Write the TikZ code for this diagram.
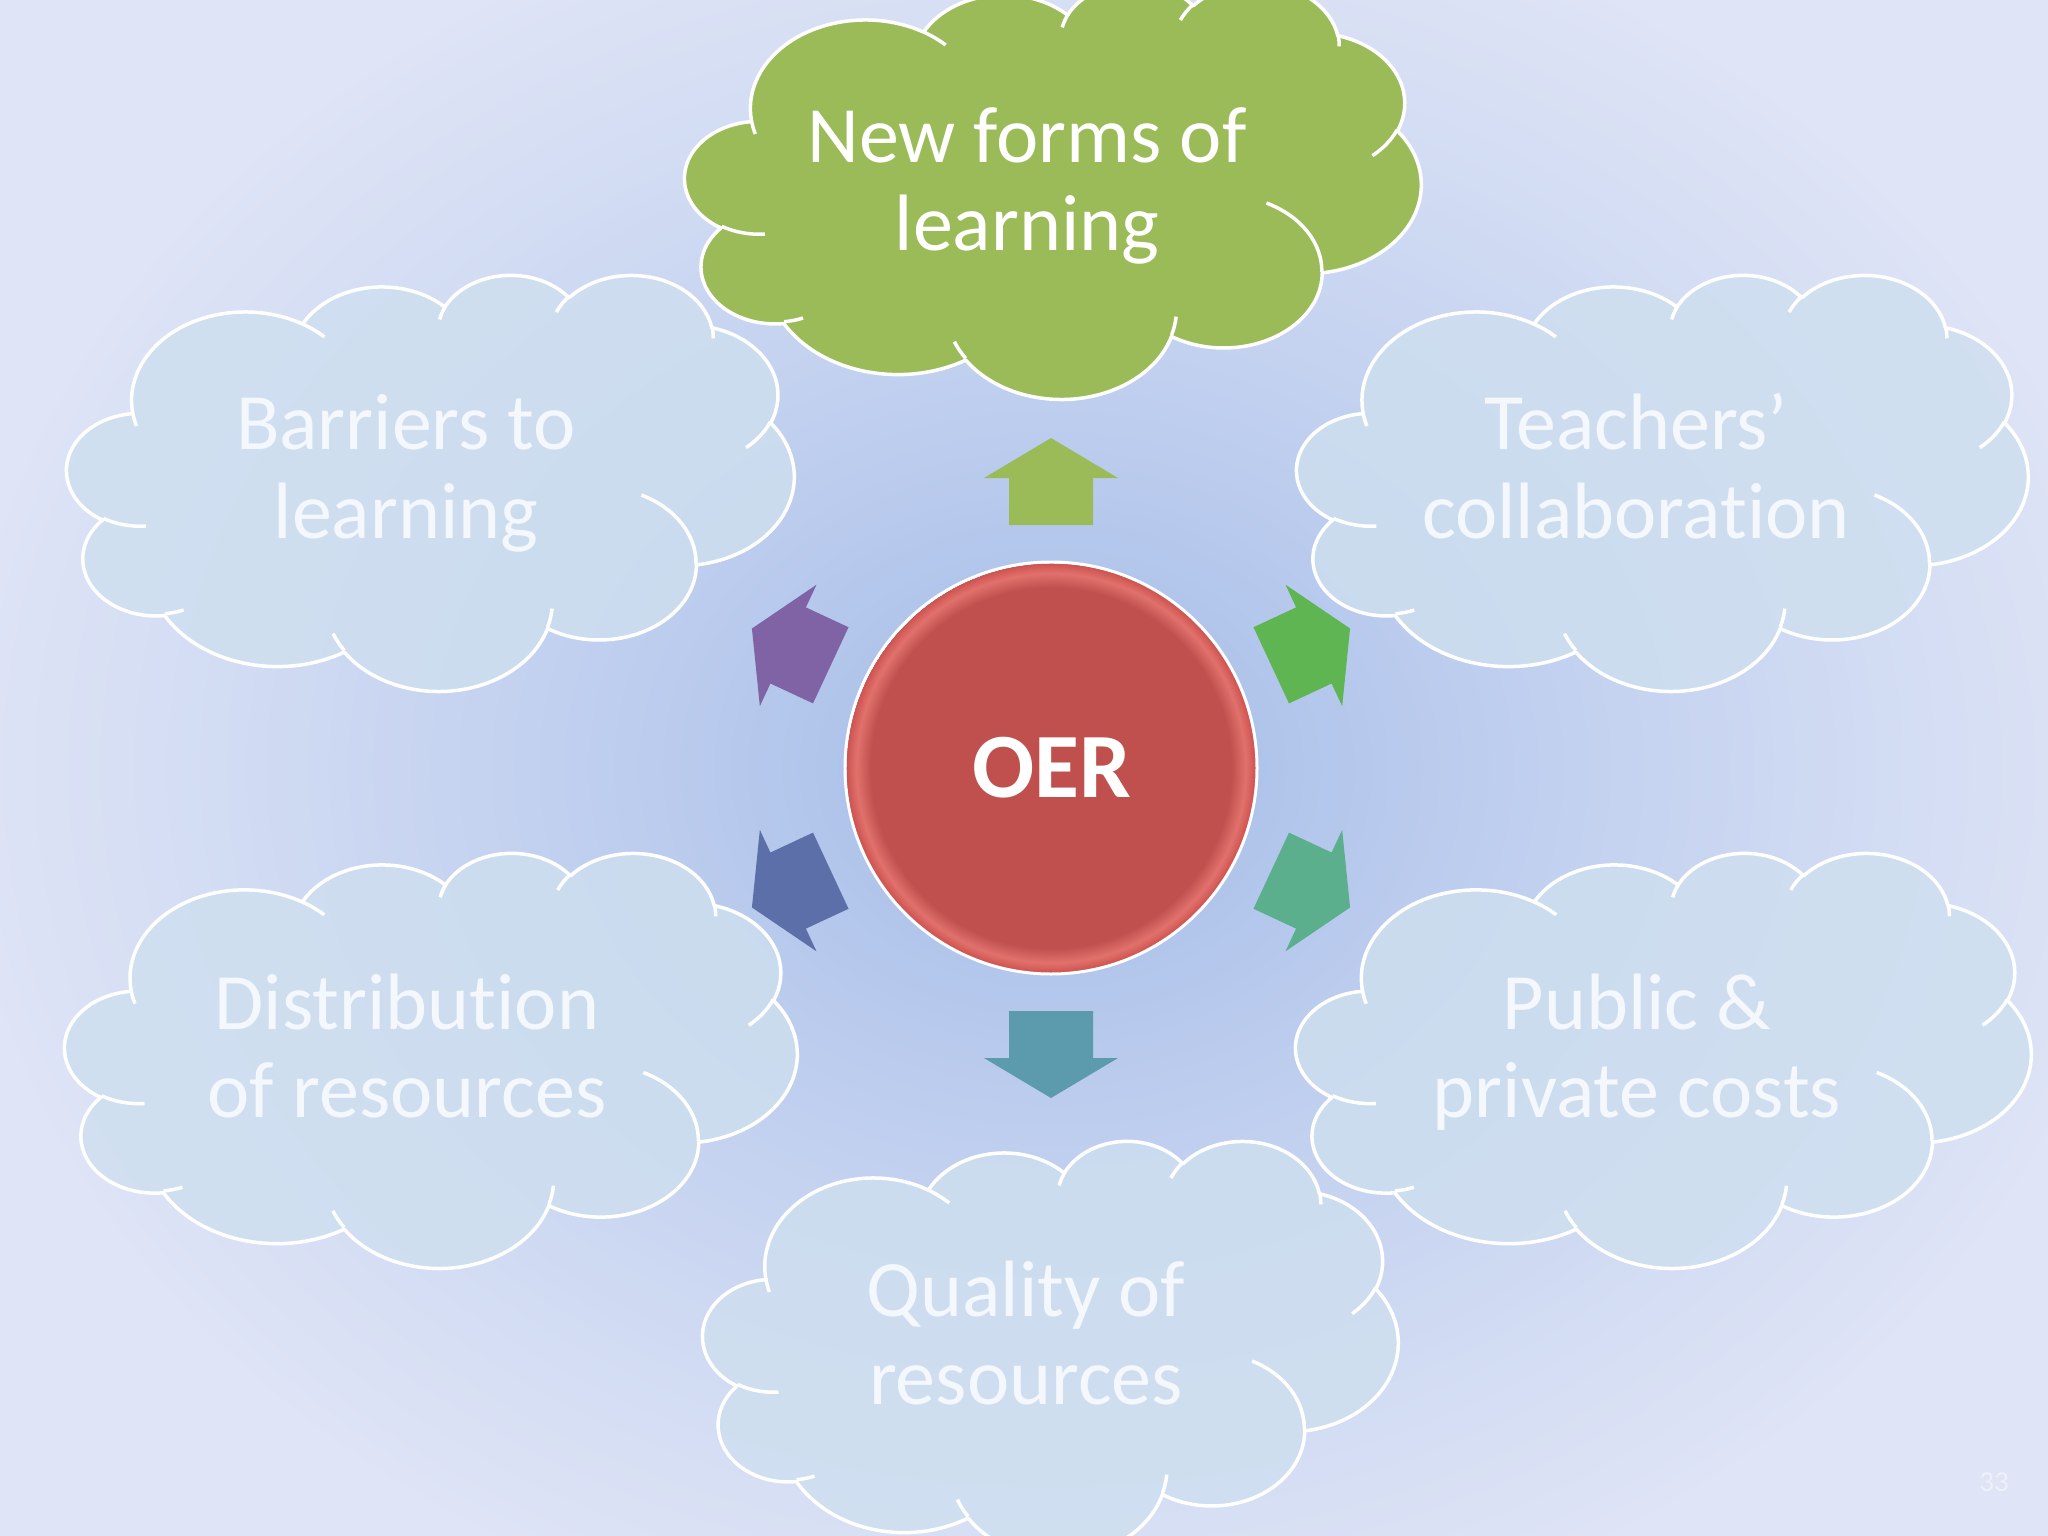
\documentclass[tikz,border=0pt]{standalone}
\usepackage{fontspec}
\setmainfont{Carlito}[Ligatures=NoCommon]
\definecolor{bgA}{HTML}{A6BCE8}
\definecolor{bgB}{HTML}{AEC3EA}
\definecolor{bgC}{HTML}{C4D2F0}
\definecolor{bgE}{HTML}{D2DCF3}
\definecolor{bgD}{HTML}{DFE4F6}
\definecolor{oerred}{HTML}{C0504D}
\definecolor{oerrim}{HTML}{E0716C}
\definecolor{oerrim2}{HTML}{D65E5A}
\definecolor{oeredge}{HTML}{C9524F}
\definecolor{cloudfill}{HTML}{CEDFEF}
\definecolor{greenfill}{HTML}{9BBB59}
\definecolor{cloudtxt}{HTML}{F4F7FC}
\definecolor{pagenum}{HTML}{EEF1FA}
\definecolor{arrUp}{HTML}{9BBB59}
\definecolor{arrUR}{HTML}{5EB551}
\definecolor{arrLR}{HTML}{5BAF8C}
\definecolor{arrDn}{HTML}{5C9BAE}
\definecolor{arrLL}{HTML}{5D6FA9}
\definecolor{arrUL}{HTML}{7F63A4}
\pgfdeclareradialshading{bgshade}{\pgfpoint{0bp}{0bp}}{color(0bp)=(bgA); color(8bp)=(bgB); color(25bp)=(bgC); color(38bp)=(bgE); color(50bp)=(bgD)}
\pgfdeclareradialshading{oershade}{\pgfpoint{0bp}{0bp}}{color(0bp)=(oerred); color(44bp)=(oerred); color(47.5bp)=(oerrim); color(49bp)=(oerrim2); color(50bp)=(oeredge)}
\tikzset{
  ooarc/.code n args={4}{%
    \pgfmathsetmacro\ooTa{atan2((#1)*sin(#3),(#2)*cos(#3))}%
    \pgfmathsetmacro\ooTb{atan2((#1)*sin(#3+#4),(#2)*cos(#3+#4))}%
    \pgfmathsetmacro\ooD{\ooTb-\ooTa}%
    \pgfmathsetmacro\ooD{ifthenelse(\ooD<0,\ooD+360,\ooD)}%
    \edef\ooArgs{x radius=#1,y radius=#2,start angle=\ooTa,delta angle=\ooD}%
    \expandafter\pgfkeysalso\expandafter{\ooArgs}%
  },
  lightcloud/.style={fill=cloudfill, fill opacity=0.8, draw=white, line width=3.5pt, line join=round},
  greencloud/.style={fill=greenfill, draw=white, line width=3.5pt, line join=round},
  cloudtext/.style={font=\fontsize{80}{88}\selectfont, text=cloudtxt, anchor=base, inner sep=0pt},
  greentext/.style={cloudtext, text=white},
  blockarrow/.style={draw=none}
}
\newcommand\oocloud[5]{%
\begin{scope}[shift={(#1,#2)},xscale=#3/432,yscale=#4/432]
\path[#5] (39,143.7)
 arc[ooarc={67.53}{91.90}{-190.4875}{123.7805}]
 arc[ooarc={53.33}{72.67}{-144.1024}{89.9452}]
 arc[ooarc={43.65}{59.45}{-145.8079}{99.7230}]
 arc[ooarc={48.57}{65.95}{-130.9861}{117.2417}]
 arc[ooarc={53.33}{72.73}{-78.7089}{109.0269}]
 arc[ooarc={67.75}{92.20}{-46.2673}{130.2690}]
 arc[ooarc={57.85}{78.67}{0.6250}{114.0333}]
 arc[ooarc={67.52}{92.15}{22.4516}{115.1726}]
 arc[ooarc={77.20}{105.43}{66.2426}{75.7110}]
 arc[ooarc={43.60}{59.18}{-274.9421}{146.7356}]
 arc[ooarc={43.45}{59.45}{-246.8285}{152.5189}]
 -- cycle;
\path[#5,fill=none] (46.93,261.77) arc[ooarc={43.45}{59.45}{86.742}{26.4295}]
 (69.28,348.99) arc[ooarc={43.60}{59.18}{73.6105}{11.4475}]
 (164.78,390.90) arc[ooarc={67.52}{92.15}{137.6242}{14.0811}]
 (288.27,347.51) arc[ooarc={67.52}{92.15}{6.4533}{15.9984}]
 (341.29,229.54) arc[ooarc={57.85}{78.67}{-70.2924}{70.9174}]
 (417.98,153.54) arc[ooarc={53.33}{72.73}{30.3180}{27.7515}]
 (383.24,54.26) arc[ooarc={48.57}{65.95}{-13.7443}{14.8593}]
 (290.78,39.52) arc[ooarc={48.57}{65.95}{-149.1815}{18.1954}]
 (221.41,47.20) arc[ooarc={43.65}{59.45}{-163.4943}{17.6864}]
 (140.00,51.92) arc[ooarc={67.53}{91.90}{-66.7070}{12.3194}]
 (41.27,157.89) arc[ooarc={67.53}{91.90}{157.6544}{11.8582}];
\end{scope}}
\newcommand\ooarrow[2]{%
\fill[blockarrow, #2, shift={(c)}, rotate=#1] (243,-42) -- (290,-42) -- (290,-67) -- (330,0) -- (290,67) -- (290,42) -- (243,42) -- cycle;}
\begin{document}
\begin{tikzpicture}[x=1pt,y=-1pt]
\useasboundingbox (0,0) rectangle (2048,1536);
\clip (0,0) rectangle (2048,1536);
\fill[bgD] (0,0) rectangle (2048,1536);
\coordinate (c) at (1051,768);
\begin{scope}[shift={(c)},xscale=21.9,yscale=17.9]
\pgflowlevelsynccm
\pgfuseshading{bgshade}
\end{scope}
% clouds
\oocloud{685}{-18}{736}{416}{greencloud}
\oocloud{1297}{274}{731}{416}{lightcloud}
\oocloud{1296}{852}{735}{415}{lightcloud}
\oocloud{703}{1140}{695}{416}{lightcloud}
\oocloud{65}{852}{732}{415}{lightcloud}
\oocloud{67}{274}{727}{416}{lightcloud}
% arrows
\ooarrow{90}{arrUp}
\ooarrow{25}{arrUR}
\ooarrow{-25}{arrLR}
\ooarrow{-90}{arrDn}
\ooarrow{205}{arrLL}
\ooarrow{155}{arrUL}
% centre
\begin{scope}
\clip (c) circle[radius=205];
\begin{scope}[shift={(c)},scale=4.085]
\pgflowlevelsynccm
\pgfuseshading{oershade}
\end{scope}
\end{scope}
\draw[white, line width=3pt] (c) circle[radius=206];
\node[font=\bfseries\fontsize{92}{100}\selectfont, text=white, anchor=base, inner sep=0pt] (oer) at (1052,797) {OER};
% texts
\node[greentext] (nf1) at (1027,162) {New forms of};
\node[greentext] (nf2) at (1027,250) {learning};
\node[cloudtext] (bl1) at (406,449) {Barriers to};
\node[cloudtext] (bl2) at (406,538) {learning};
\node[cloudtext] (tc1) at (1636,449) {Teachers’};
\node[cloudtext] (tc2) at (1636,538) {collaboration};
\node[cloudtext] (dr1) at (407,1029) {Distribution};
\node[cloudtext] (dr2) at (407,1117) {of resources};
\node[cloudtext] (pc1) at (1637,1029) {Public \&};
\node[cloudtext] (pc2) at (1637,1117) {private costs};
\node[cloudtext] (qr1) at (1026,1316) {Quality of};
\node[cloudtext] (qr2) at (1026,1404) {resources};
\node[font=\fontsize{29}{32}\selectfont, text=pagenum, anchor=base, inner sep=0pt] (pg) at (1994,1491) {33};
\end{tikzpicture}
\end{document}
